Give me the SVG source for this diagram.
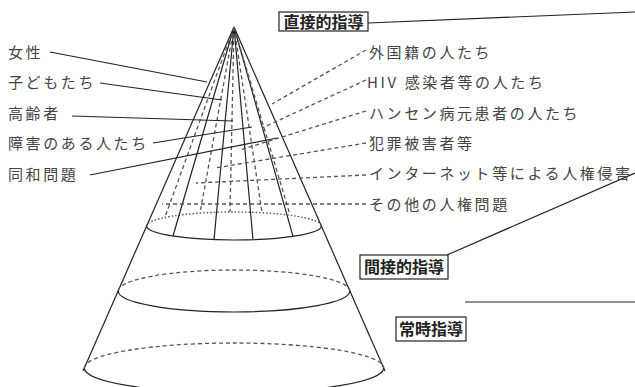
<svg xmlns="http://www.w3.org/2000/svg" width="635" height="387" viewBox="0 0 635 387">
<style>
.s{fill:none;stroke:#222;stroke-width:1.2}
.d{fill:none;stroke:#555;stroke-width:1.3;stroke-dasharray:4 3}
.o{fill:none;stroke:#555;stroke-width:1.4;stroke-dasharray:1.5 2}
.t{font-family:"Noto Sans CJK JP","Noto Sans CJK SC",sans-serif;font-size:15px;fill:#444;letter-spacing:2.6px}
.b{font-family:"Noto Sans CJK JP","Noto Sans CJK SC",sans-serif;font-size:16px;font-weight:bold;fill:#222;text-anchor:middle}
.box{fill:#fff;stroke:#222;stroke-width:1.2}
</style>
<rect width="635" height="387" fill="#fff"/>
<g id="cone">
<line class="s" x1="234" y1="27" x2="83" y2="371"/>
<line class="s" x1="234" y1="27" x2="385" y2="371"/>
<path class="o" d="M146.6,226 A87.4,14 0 0 1 321.4,226"/>
<path class="s" d="M146.6,226 A87.4,14 0 0 0 321.4,226"/>
<path class="d" d="M118.1,291 A115.9,21 0 0 1 349.9,291"/>
<path class="s" d="M118.1,291 A115.9,21 0 0 0 349.9,291"/>
<path class="d" d="M84.3,368 A149.7,25 0 0 1 383.7,368"/>
<path class="s" d="M84.3,368 A149.7,25 0 0 0 383.7,368"/>
<line class="s" x1="234" y1="27" x2="173" y2="236"/>
<line class="s" x1="234" y1="27" x2="214" y2="239.6"/>
<line class="s" x1="234" y1="27" x2="253" y2="239.7"/>
<line class="s" x1="234" y1="27" x2="293" y2="236.4"/>
<line class="d" x1="234" y1="27" x2="165" y2="217"/>
<line class="d" x1="234" y1="27" x2="200" y2="213"/>
<line class="d" x1="234" y1="27" x2="230" y2="212"/>
<line class="d" x1="234" y1="27" x2="262" y2="212.7"/>
<line class="d" x1="234" y1="27" x2="290" y2="215"/>
</g>
<g id="connectors">
<line class="s" x1="50" y1="52" x2="207" y2="82"/>
<line class="s" x1="100" y1="83" x2="222" y2="100"/>
<line class="s" x1="72" y1="116" x2="233" y2="121"/>
<line class="s" x1="153" y1="143" x2="252" y2="127"/>
<line class="s" x1="90" y1="175" x2="277" y2="138"/>
<line class="d" x1="366" y1="50" x2="272" y2="104"/>
<line class="d" x1="366" y1="80" x2="262" y2="128"/>
<line class="d" x1="366" y1="111" x2="240" y2="150"/>
<line class="d" x1="366" y1="143" x2="215" y2="168"/>
<line class="d" x1="366" y1="175" x2="196" y2="183"/>
<line class="d" x1="366" y1="204" x2="162" y2="204"/>
<line class="s" x1="368" y1="23" x2="635" y2="12"/>
<line class="s" x1="447" y1="255" x2="635" y2="173"/>
<line class="s" x1="465" y1="302" x2="635" y2="302"/>
</g>
<g id="left-labels">
<text class="t" x="8" y="58">女性</text>
<text class="t" x="8" y="88">子どもたち</text>
<text class="t" x="8" y="119">高齢者</text>
<text class="t" x="8" y="149">障害のある人たち</text>
<text class="t" x="8" y="180">同和問題</text>
</g>
<g id="right-labels">
<text class="t" x="369" y="58">外国籍の人たち</text>
<text class="t" x="367" y="88">HIV 感染者等の人たち</text>
<text class="t" x="369" y="119">ハンセン病元患者の人たち</text>
<text class="t" x="369" y="149">犯罪被害者等</text>
<text class="t" x="369" y="179">インターネット等による人権侵害</text>
<text class="t" x="369" y="210">その他の人権問題</text>
</g>
<g id="direct">
<rect class="box" x="279" y="12" width="89" height="19"/>
<text class="b" x="323.5" y="27.5">直接的指導</text>
</g>
<g id="indirect">
<rect class="box" x="360" y="255" width="88" height="24"/>
<text class="b" x="404" y="273">間接的指導</text>
</g>
<g id="always">
<rect class="box" x="396" y="317" width="70" height="24"/>
<text class="b" x="431" y="335">常時指導</text>
</g>
</svg>
